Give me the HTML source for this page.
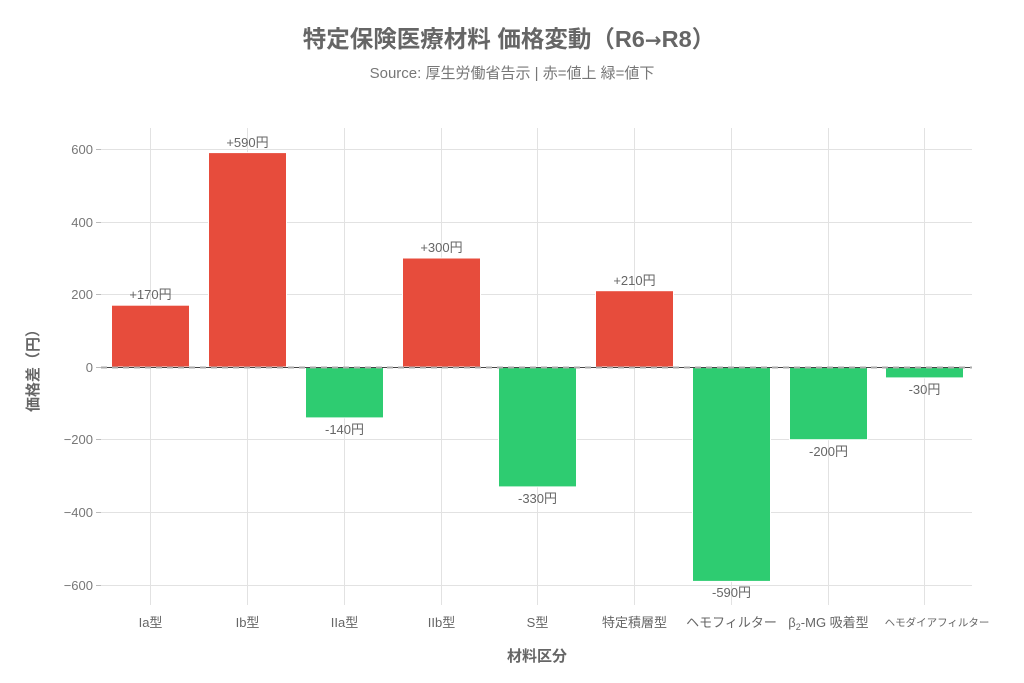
<!DOCTYPE html>
<html><head><meta charset="utf-8"><style>
html,body{margin:0;padding:0;background:#fff;}
svg{display:block;font-family:"Liberation Sans","Noto Sans CJK JP",sans-serif;}
</style></head><body>
<svg width="1024" height="683" viewBox="0 0 1024 683" xmlns="http://www.w3.org/2000/svg">
<rect width="1024" height="683" fill="#fff"/>
<text x="509" y="47" text-anchor="middle" font-size="23.5" font-weight="bold" fill="#666">特定保険医療材料 価格変動（R6<tspan font-family="DejaVu Sans" font-size="20">→</tspan>R8）</text>
<text x="512" y="78" text-anchor="middle" font-size="15" fill="#777">Source: 厚生労働省告示 | 赤=値上 緑=値下</text>
<g stroke="#e2e2e2" stroke-width="1">
<line x1="101" x2="972" y1="149.5" y2="149.5"/>
<line x1="101" x2="972" y1="222.5" y2="222.5"/>
<line x1="101" x2="972" y1="294.5" y2="294.5"/>
<line x1="101" x2="972" y1="439.5" y2="439.5"/>
<line x1="101" x2="972" y1="512.5" y2="512.5"/>
<line x1="101" x2="972" y1="585.5" y2="585.5"/>
<line x1="150.5" x2="150.5" y1="128" y2="605"/>
<line x1="247.5" x2="247.5" y1="128" y2="605"/>
<line x1="344.5" x2="344.5" y1="128" y2="605"/>
<line x1="441.5" x2="441.5" y1="128" y2="605"/>
<line x1="537.5" x2="537.5" y1="128" y2="605"/>
<line x1="634.5" x2="634.5" y1="128" y2="605"/>
<line x1="731.5" x2="731.5" y1="128" y2="605"/>
<line x1="828.5" x2="828.5" y1="128" y2="605"/>
<line x1="924.5" x2="924.5" y1="128" y2="605"/>
</g>
<g stroke="#bbb"><line x1="96" x2="101" y1="149.5" y2="149.5"/><line x1="96" x2="101" y1="222.5" y2="222.5"/><line x1="96" x2="101" y1="294.5" y2="294.5"/><line x1="96" x2="101" y1="367.5" y2="367.5"/><line x1="96" x2="101" y1="439.5" y2="439.5"/><line x1="96" x2="101" y1="512.5" y2="512.5"/><line x1="96" x2="101" y1="585.5" y2="585.5"/></g>
<g font-size="13" fill="#777" text-anchor="end">
<text x="93" y="154">600</text><text x="93" y="227">400</text><text x="93" y="299">200</text><text x="93" y="372">0</text>
<text x="93" y="444">−200</text><text x="93" y="517">−400</text><text x="93" y="590">−600</text>
</g>
<g stroke="#fff" stroke-width="1">
<rect x="111.5" y="305.2" width="78" height="61.8" fill="#e74c3c"/>
<rect x="208.5" y="152.6" width="78" height="214.4" fill="#e74c3c"/>
<rect x="305.5" y="367" width="78" height="50.9" fill="#2ecc71"/>
<rect x="402.5" y="258" width="78" height="109" fill="#e74c3c"/>
<rect x="498.5" y="367" width="78" height="119.9" fill="#2ecc71"/>
<rect x="595.5" y="290.7" width="78" height="76.3" fill="#e74c3c"/>
<rect x="692.5" y="367" width="78" height="214.4" fill="#2ecc71"/>
<rect x="789.5" y="367" width="78" height="72.7" fill="#2ecc71"/>
<rect x="885.5" y="367" width="78" height="10.9" fill="#2ecc71"/>
</g>
<line x1="101" x2="972" y1="367.5" y2="367.5" stroke="#444" stroke-width="1"/>
<line x1="101" x2="972" y1="367.5" y2="367.5" stroke="#aaa" stroke-width="2" stroke-dasharray="6,5"/>
<g font-size="13" fill="#666" text-anchor="middle">
<text x="150.5" y="299">+170円</text>
<text x="247.5" y="147">+590円</text>
<text x="344.5" y="434">-140円</text>
<text x="441.5" y="252">+300円</text>
<text x="537.5" y="503">-330円</text>
<text x="634.5" y="285">+210円</text>
<text x="731.5" y="597">-590円</text>
<text x="828.5" y="456">-200円</text>
<text x="924.5" y="394">-30円</text>
</g>
<g font-size="13" fill="#666" text-anchor="middle">
<text x="150.5" y="627">Ia型</text>
<text x="247.5" y="627">Ib型</text>
<text x="344.5" y="627">IIa型</text>
<text x="441.5" y="627">IIb型</text>
<text x="537.5" y="627">S型</text>
<text x="634.5" y="627">特定積層型</text>
<text x="731.5" y="627">ヘモフィルター</text>
<text x="828.5" y="627">β<tspan font-size="9" dy="3">2</tspan><tspan dy="-3">-MG 吸着型</tspan></text>
<text x="937" y="626" font-size="10.5">ヘモダイアフィルター</text>
</g>
<text x="537" y="661" text-anchor="middle" font-size="15" font-weight="bold" fill="#666">材料区分</text>
<text transform="translate(38,367) rotate(-90)" text-anchor="middle" font-size="15" font-weight="bold" fill="#666">価格差（円）</text>
</svg>
</body></html>
